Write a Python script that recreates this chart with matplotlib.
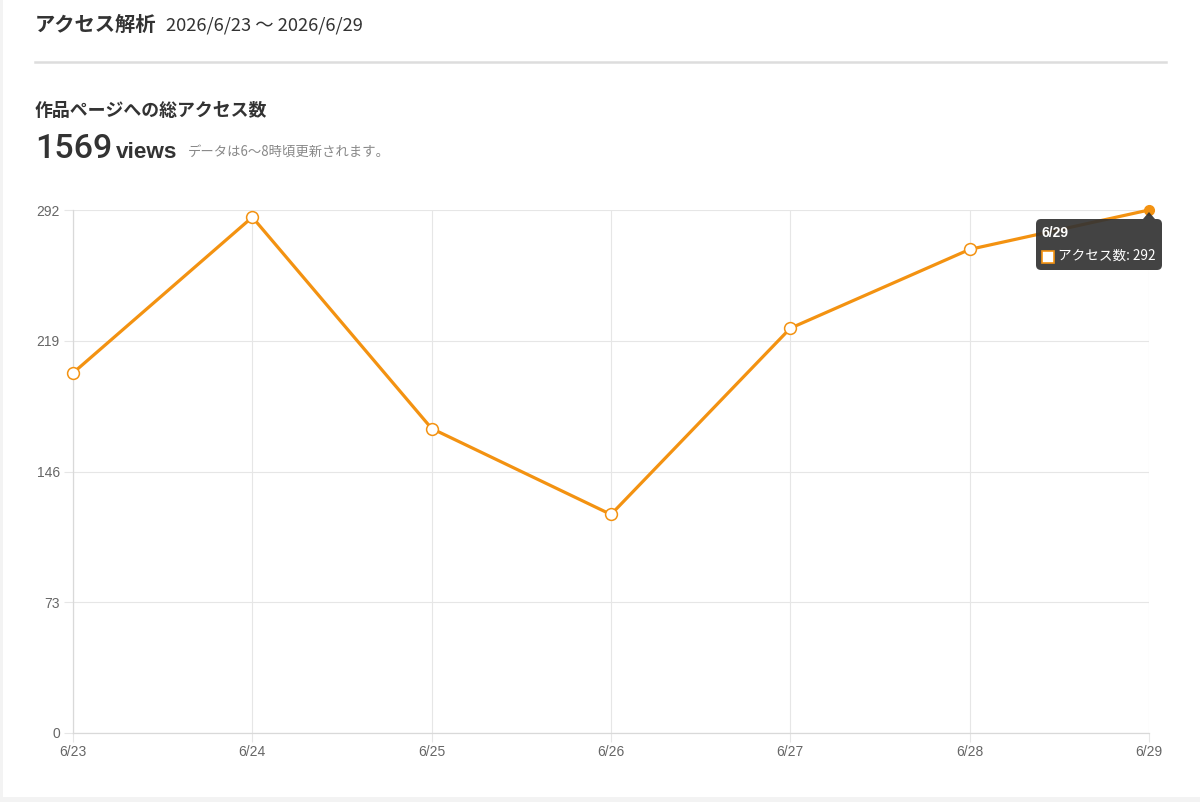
import matplotlib
matplotlib.use('Agg')
import matplotlib.pyplot as plt
from matplotlib.patches import FancyBboxPatch, Rectangle, Polygon
from matplotlib.transforms import IdentityTransform
from matplotlib.lines import Line2D

plt.rcParams['font.family'] = ['Noto Sans CJK JP', 'DejaVu Sans']

# data
dates = ['6/23', '6/24', '6/25', '6/26', '6/27', '6/28', '6/29']
views = [201, 288, 170, 122, 226, 270, 292]
y_ticks = [0, 73, 146, 219, 292]
total_views = 1569

ORANGE = '#f39211'
GRID = '#e6e6e6'
TICK_TXT = '#666666'
LATIN = ['Liberation Sans', 'DejaVu Sans']

W, H = 1200, 802
fig = plt.figure(figsize=(W / 100, H / 100), dpi=100)
fig.patch.set_facecolor('white')


def fx(x):
    return x / W


def fy(y):
    return 1 - y / H


# page background strips (card edge)
ident = IdentityTransform()
fig.patches.append(Rectangle((0, 0), W, H - 797, transform=ident,
                             facecolor='#f3f3f3', edgecolor='none', zorder=0))
fig.patches.append(Rectangle((0, 0), 3, H, transform=ident,
                             facecolor='#f3f3f3', edgecolor='none', zorder=0))

# header
fig.text(fx(35), fy(24), 'アクセス解析', fontsize=14.6, fontweight='bold',
         color='#333333', va='center', ha='left')
fig.text(fx(166), fy(25), '2026/6/23 〜 2026/6/29', fontsize=13.2,
         color='#333333', va='center', ha='left')
fig.add_artist(Line2D([fx(35), fx(1166)], [fy(62), fy(62)],
                      color='#dddddd', linewidth=1.8))

fig.text(fx(35), fy(111), '作品ページへの総アクセス数', fontsize=12.9,
         fontweight='bold', color='#333333', va='center', ha='left')
fig.text(fx(35), fy(149), f'{total_views}', fontsize=24.5, color='#333333',
         va='center', ha='left', family='Roboto', fontweight='medium')
fig.text(fx(116), fy(152), 'views', fontsize=16.2, fontweight='bold',
         color='#333333', va='center', ha='left', family=LATIN)
fig.text(fx(188), fy(153), 'データは6〜8時頃更新されます。', fontsize=9.6,
         color='#888888', va='center', ha='left')

# chart area
left, right, top, bottom = 73, 1149, 210, 733
ax = fig.add_axes([fx(left), fy(bottom), fx(right - left), (bottom - top) / H])
x = list(range(len(dates)))
ax.plot(x, views, color=ORANGE, linewidth=2.3, zorder=3, clip_on=False)
ax.plot(x[:-1], views[:-1], linestyle='none', marker='o', markersize=8.5,
        markerfacecolor='white', markeredgecolor=ORANGE, markeredgewidth=1.1,
        zorder=4, clip_on=False)
ax.plot(x[-1:], views[-1:], linestyle='none', marker='o', markersize=7,
        markerfacecolor=ORANGE, markeredgecolor=ORANGE, zorder=4, clip_on=False)

ax.set_xlim(0, len(dates) - 1)
ax.set_ylim(0, y_ticks[-1])
ax.set_xticks(x)
ax.set_xticklabels(dates)
ax.set_yticks(y_ticks)
ax.grid(True, color=GRID, linewidth=0.8)
ax.set_axisbelow(True)
for s in ['top', 'right']:
    ax.spines[s].set_visible(False)
for s in ['left', 'bottom']:
    ax.spines[s].set_color('#d9d9d9')
    ax.spines[s].set_linewidth(0.9)
ax.tick_params(axis='both', length=6.5, color=GRID, width=0.8,
               labelcolor=TICK_TXT, labelsize=10)
ax.tick_params(axis='y', pad=3)
ax.tick_params(axis='x', pad=2)
for lab in ax.get_xticklabels() + ax.get_yticklabels():
    lab.set_family(LATIN)

# tooltip at last point
tx0, ty0, tx1, ty1 = 1036, 219, 1162, 270
tip = FancyBboxPatch((tx0, H - ty1), tx1 - tx0, ty1 - ty0,
                     boxstyle='round,pad=0,rounding_size=5', transform=ident,
                     facecolor='#333333', edgecolor='none', alpha=0.92, zorder=10)
fig.patches.append(tip)
fig.patches.append(Polygon([(1143, H - 219), (1155, H - 219), (1149, H - 212)],
                           closed=True, transform=ident, facecolor='#333333',
                           edgecolor='none', alpha=0.92, zorder=10))
fig.text(fx(1042), fy(233), dates[-1], fontsize=10, fontweight='bold',
         color='white', va='center', ha='left', family=LATIN, zorder=11)
fig.patches.append(Rectangle((1042, H - 263), 12, 12, transform=ident,
                             facecolor='white', edgecolor=ORANGE,
                             linewidth=1.2, zorder=11))
fig.text(fx(1058), fy(256), f'アクセス数: {views[-1]}', fontsize=9.8,
         color='white', va='center', ha='left', zorder=11)

fig.savefig('out.png', dpi=100)
